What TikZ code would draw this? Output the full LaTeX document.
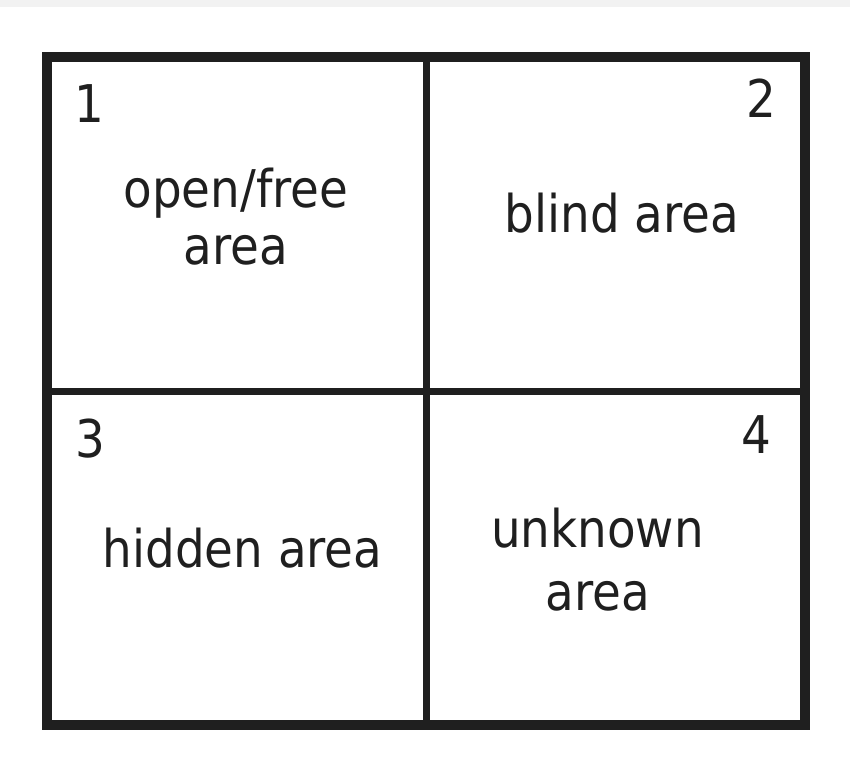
\documentclass[tikz,border=0pt]{standalone}
\usepackage{fontspec}
\setmainfont{DejaVu Sans}[FakeStretch=0.9]
\begin{document}
\begin{tikzpicture}[x=1pt,y=-1pt,
  every node/.style={inner sep=0pt, outer sep=0pt, text=black!88},
  area/.style={anchor=base, align=center, font=\fontsize{52}{50}\selectfont},
  num/.style={anchor=base, font=\fontsize{52}{50}\selectfont},
  divider/.style={line width=7pt, draw=black!88}]
\useasboundingbox (0,0) rectangle (850,775);
\fill[gray!10] (0,0) rectangle (850,7);
\node[draw=black!88, line width=10pt, minimum width=758pt, minimum height=668pt] (box) at (426,391) {};
\draw[divider] (box.north) -- (box.south);
\draw[divider] (box.west) -- (box.east);

\node[num] (n1) at (89,123) {1};
\node[num] (n2) at (761.5,118) {2};
\node[num] (n3) at (90.5,457) {3};
\node[num] (n4) at (756.5,453) {4};

\node[area] (t1) at (236,265) {open/free\\[7pt]area};
\node[area] (t2) at (622,233) {blind area};
\node[area] (t3) at (242.5,567) {hidden area};
\node[area] (t4) at (597.5,610) {unknown\\[13pt]area};
\end{tikzpicture}
\end{document}
